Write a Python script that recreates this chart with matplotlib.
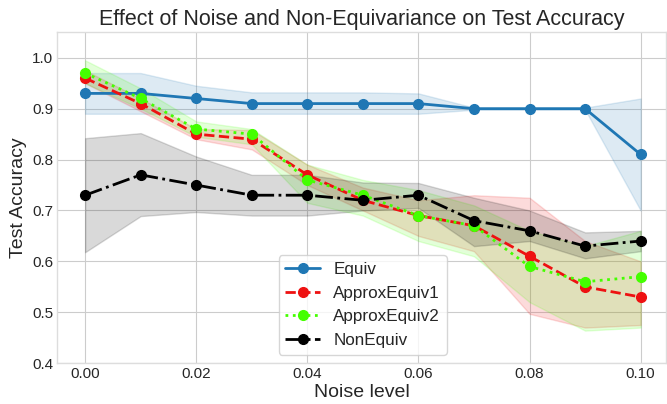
import matplotlib
matplotlib.use("Agg")
import matplotlib.pyplot as plt
import numpy as np

noise = [0.00, 0.01, 0.02, 0.03, 0.04, 0.05, 0.06, 0.07, 0.08, 0.09, 0.10]

equiv = [0.93, 0.93, 0.92, 0.91, 0.91, 0.91, 0.91, 0.90, 0.90, 0.90, 0.81]
equiv_lo = [0.89, 0.89, 0.89, 0.89, 0.89, 0.89, 0.89, 0.898, 0.898, 0.898, 0.70]
equiv_hi = [0.97, 0.97, 0.945, 0.932, 0.932, 0.932, 0.93, 0.902, 0.902, 0.902, 0.92]

approx1 = [0.96, 0.91, 0.85, 0.84, 0.77, 0.72, 0.69, 0.67, 0.61, 0.55, 0.53]
approx1_lo = [0.95, 0.895, 0.84, 0.82, 0.75, 0.70, 0.65, 0.62, 0.497, 0.47, 0.475]
approx1_hi = [0.975, 0.92, 0.86, 0.858, 0.79, 0.745, 0.72, 0.73, 0.725, 0.64, 0.60]

approx2 = [0.97, 0.92, 0.86, 0.85, 0.76, 0.73, 0.69, 0.67, 0.59, 0.56, 0.57]
approx2_lo = [0.95, 0.90, 0.845, 0.83, 0.715, 0.69, 0.64, 0.61, 0.52, 0.464, 0.47]
approx2_hi = [0.995, 0.94, 0.875, 0.86, 0.79, 0.76, 0.74, 0.71, 0.66, 0.63, 0.66]

nonequiv = [0.73, 0.77, 0.75, 0.73, 0.73, 0.72, 0.73, 0.68, 0.66, 0.63, 0.64]
nonequiv_lo = [0.618, 0.689, 0.697, 0.69, 0.69, 0.70, 0.705, 0.63, 0.64, 0.606, 0.62]
nonequiv_hi = [0.842, 0.852, 0.806, 0.77, 0.77, 0.755, 0.754, 0.725, 0.70, 0.657, 0.66]

plt.style.use("seaborn-v0_8-whitegrid")
fig, ax = plt.subplots(figsize=(6.67, 4.04), dpi=100)

blue = "#1f77b4"
red = "#ee1111"
green = "#44ff00"

ax.plot(noise, equiv, "-o", color=blue, lw=2, ms=7, label="Equiv")
ax.fill_between(noise, equiv_lo, equiv_hi, color=blue, alpha=0.15)

ax.plot(noise, approx1, "--o", color=red, lw=2, ms=7, label="ApproxEquiv1")
ax.fill_between(noise, approx1_lo, approx1_hi, color=red, alpha=0.15)

ax.plot(noise, approx2, ":o", color=green, lw=2, ms=7, label="ApproxEquiv2")
ax.fill_between(noise, approx2_lo, approx2_hi, color=green, alpha=0.15)

ax.plot(noise, nonequiv, "-.o", color="black", lw=2, ms=7, label="NonEquiv")
ax.fill_between(noise, nonequiv_lo, nonequiv_hi, color="black", alpha=0.15)

ax.set_xlim(-0.005, 0.1045)
ax.set_ylim(0.4, 1.05)
ax.set_xticks([0.0, 0.02, 0.04, 0.06, 0.08, 0.10])
ax.set_xticklabels(["0.00", "0.02", "0.04", "0.06", "0.08", "0.10"])
ax.set_yticks(np.arange(0.4, 1.01, 0.1))
ax.tick_params(labelsize=11, pad=3)
for s in ax.spines.values():
    s.set_visible(True)
    s.set_color("#dddddd")

ax.set_title("Effect of Noise and Non-Equivariance on Test Accuracy", fontsize=15.5, pad=5)
ax.set_xlabel("Noise level", fontsize=14, labelpad=2)
ax.set_ylabel("Test Accuracy", fontsize=14, labelpad=4)
ax.legend(loc="lower center", bbox_to_anchor=(0.502, 0.0), fontsize=12.3,
          frameon=True, handlelength=2.0)

plt.subplots_adjust(left=0.086, right=0.998, top=0.92, bottom=0.101)
plt.savefig("out.png")
